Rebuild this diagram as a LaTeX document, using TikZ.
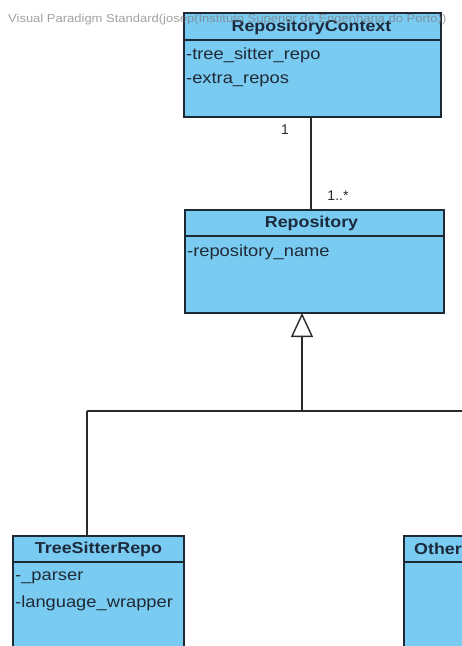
\documentclass[tikz,border=0pt]{standalone}
\usepackage{fontspec}
\setmainfont{Liberation Sans}
\newfontfamily\widesans[FakeStretch=1.13]{Liberation Sans}
\usetikzlibrary{arrows.meta}
\definecolor{clsfill}{HTML}{7ACBF2}
\definecolor{boxline}{HTML}{1E2936}
\definecolor{titleink}{HTML}{1C2A3C}
\definecolor{attrink}{HTML}{202A36}
\definecolor{linkink}{HTML}{2A2A2A}
\definecolor{wmink}{HTML}{7A7A7A}
\tikzset{
  classbox/.style={draw=boxline, fill=clsfill, line width=1.6pt, rectangle,
    anchor=north west, inner sep=0pt, outer sep=0pt},
  sepline/.style={draw=boxline, line width=1.4pt},
  ctitle/.style={font=\widesans\bfseries\fontsize{15.8}{16}\selectfont, text=titleink, inner sep=0pt},
  attr/.style={font=\widesans\fontsize{16.2}{17}\selectfont, text=attrink, anchor=west, inner sep=0pt},
  mult/.style={font=\fontsize{14}{14}\selectfont, text=linkink, inner sep=0pt},
  link/.style={draw=linkink, line width=1.4pt},
  genarrow/.style={link, -{Triangle[open, length=24pt, width=22pt, line width=1.4pt]}},
  wmark/.style={font=\widesans\fontsize{11.5}{12}\selectfont, text=wmink, anchor=west, inner sep=0pt, opacity=0.7},
}
\begin{document}
\begin{tikzpicture}[x=1pt,y=-1pt]
\clip (0,0) rectangle (462,646);
\fill[white] (0,0) rectangle (462,646);

% RepositoryContext
\node[classbox, minimum width=257pt, minimum height=104pt] (ctx) at (184,13) {};
\draw[sepline] (184,40) -- (441,40);
\node[ctitle] (ctxT) at (311.5,27) {RepositoryContext};
\node[attr] (ctxA1) at (186,55) {-tree\_sitter\_repo};
\node[attr] (ctxA2) at (186,80) {-extra\_repos};

% Repository
\node[classbox, minimum width=259pt, minimum height=103pt] (repo) at (185,210) {};
\draw[sepline] (185,236) -- (444,236);
\node[ctitle] (repoT) at (311.5,223) {Repository};
\node[attr] (repoA1) at (187,252) {-repository\_name};

% TreeSitterRepo
\node[classbox, minimum width=171pt, minimum height=140pt] (tsr) at (13,536) {};
\draw[sepline] (13,562) -- (184,562);
\node[ctitle] (tsrT) at (98.5,549) {TreeSitterRepo};
\node[attr] (tsrA1) at (15,578) {-\_parser};
\node[attr] (tsrA2) at (15,603) {-language\_wrapper};

% second subclass, running past the right edge
\node[classbox, minimum width=200pt, minimum height=140pt] (oth) at (404,536) {};
\draw[sepline] (404,562) -- (470,562);
\node[ctitle, anchor=west] (othT) at (414,549) {Other};

% association
\coordinate (ctxB) at (311,117);
\coordinate (repoTop) at (311,210);
\draw[link] (ctxB) -- (repoTop);
\node[mult] (m1) at (285,130) {1};
\node[mult] (m2) at (338,196) {1..*};

% generalization tree
\coordinate (repoB) at (302,313);
\coordinate (hub) at (302,411);
\coordinate (left) at (87,411);
\coordinate (right) at (470,411);
\coordinate (tsrTop) at (87,536);
\draw[link] (left) -- (right);
\draw[link] (left) -- (tsrTop);
\draw[genarrow] (hub) -- (repoB);

% tool watermark
\node[wmark] (wm) at (8,20) {Visual Paradigm Standard(josep(Instituto Superior de Engenharia do Porto))};
\end{tikzpicture}
\end{document}
